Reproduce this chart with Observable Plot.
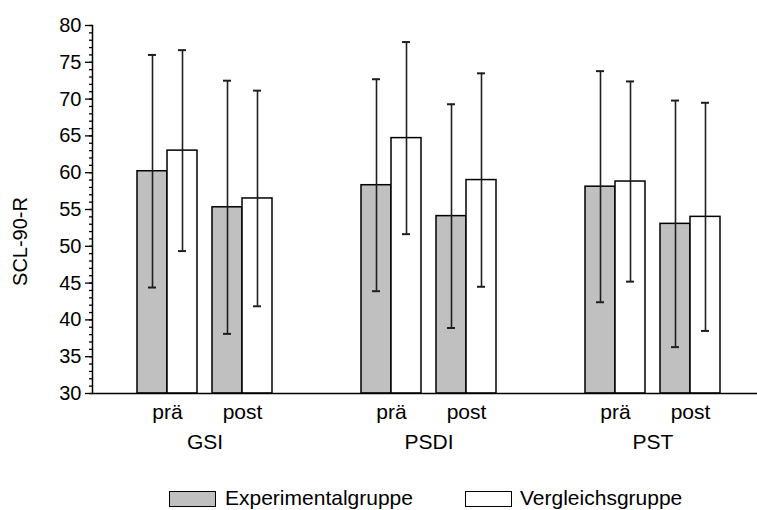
<!DOCTYPE html>
<html>
<head>
<meta charset="utf-8">
<script src="https://cdn.jsdelivr.net/npm/d3@7"></script>
<script src="https://cdn.jsdelivr.net/npm/@observablehq/plot@0.6"></script>
<style>
  body { margin: 0; background: #fff; font-family: "Liberation Sans", Arial, sans-serif; }
  #chart { position: relative; width: 757px; }
  .legend { position: relative; width: 757px; height: 40px; font-size: 21px; color: #000; }
  .legend .sw { position: absolute; top: 21px; width: 45px; height: 14px; border: 1.5px solid #000; }
  .legend .lab { position: absolute; top: 17px; line-height: 22px; white-space: nowrap; }
</style>
</head>
<body>
<div id="chart"></div>
<script>
// SCL-90-R scales, each measured before (prä) and after (post)
const metrics = ["GSI", "PSDI", "PST"];
const times = ["prä", "post"];
const groups = ["Experimentalgruppe", "Vergleichsgruppe"];

// Means and standard deviations, ordered GSI prä, GSI post, PSDI prä, PSDI post, PST prä, PST post
const expMean = [60.2, 55.3, 58.3, 54.1, 58.1, 53.05];
const expSD   = [15.8, 17.2, 14.4, 15.2, 15.7, 16.75];
const vglMean = [63.0, 56.5, 64.7, 59.0, 58.8, 54.0];
const vglSD   = [13.65, 14.65, 13.05, 14.5, 13.6, 15.5];

const yMajorTicks = [30, 35, 40, 45, 50, 55, 60, 65, 70, 75, 80];
const yMinorTicks = d3.range(30, 81, 1);

const groupFill = {"Experimentalgruppe": "#c0c0c0", "Vergleichsgruppe": "#ffffff"};

// one row per bar
const rows = [];
groups.forEach((group, gi) => {
  const means = gi === 0 ? expMean : vglMean;
  const sds = gi === 0 ? expSD : vglSD;
  metrics.forEach((metric, mi) => {
    times.forEach((time, ti) => {
      const k = mi * times.length + ti;
      rows.push({metric, time, group, mean: means[k], sd: sds[k]});
    });
  });
});

// layout inside each metric band: two pairs of bars with a small gap
const barW = 30, pairGap = 15;
const bandW = 2 * (2 * barW) + pairGap;

const barMarks = [];
times.forEach((time, ti) => {
  groups.forEach((group, gi) => {
    const left = ti * (2 * barW + pairGap) + gi * barW;
    const right = bandW - left - barW;
    const center = left + barW / 2 - bandW / 2;
    const sub = rows.filter(d => d.time === time && d.group === group);
    barMarks.push(
      Plot.barY(sub, {
        x: "metric", y1: 30, y2: "mean",
        fill: groupFill[group], stroke: "#000", strokeWidth: 1.5,
        insetLeft: left, insetRight: right
      }),
      Plot.ruleX(sub, {
        x: "metric", y1: d => d.mean - d.sd, y2: d => d.mean + d.sd,
        dx: center, stroke: "#1e1e1e", strokeWidth: 1.6
      }),
      Plot.tickY(sub, {
        x: "metric", y: d => d.mean + d.sd,
        insetLeft: left + barW / 2 - 4, insetRight: right + barW / 2 - 4,
        stroke: "#1e1e1e", strokeWidth: 2
      }),
      Plot.tickY(sub, {
        x: "metric", y: d => d.mean - d.sd,
        insetLeft: left + barW / 2 - 4, insetRight: right + barW / 2 - 4,
        stroke: "#1e1e1e", strokeWidth: 2
      })
    );
  });
});

const timeLabels = times.map((time, ti) =>
  Plot.text(metrics, {
    x: d => d, text: () => time,
    frameAnchor: "bottom", lineAnchor: "middle",
    dx: (ti === 0 ? -1 : 1) * (barW + pairGap / 2), dy: 19,
    fontSize: 21, fill: "#000"
  })
);

const chart = Plot.plot({
  width: 757,
  height: 470,
  marginLeft: 92,
  marginRight: 0,
  marginTop: 25,
  marginBottom: 77,
  style: {fontFamily: "'Liberation Sans', Arial, sans-serif", background: "#fff", color: "#000"},
  x: {domain: metrics, paddingInner: 89 / 224, paddingOuter: 41 / 224, align: 45 / 82, axis: null},
  y: {domain: [30, 80], axis: null},
  marks: [
    ...barMarks,
    Plot.axisY({ticks: yMinorTicks, tickSize: 3, text: null, label: null, strokeWidth: 1.3}),
    Plot.axisY({ticks: yMajorTicks, tickSize: 7, tickPadding: 4, fontSize: 20, label: null, strokeWidth: 1.3}),
    Plot.frame({anchor: "left", strokeWidth: 1.5}),
    Plot.ruleY([30], {strokeWidth: 1.5}),
    ...timeLabels,
    Plot.axisX({tickSize: 0, tickPadding: 41, fontSize: 21, label: null}),
    Plot.text(["SCL-90-R"], {
      text: d => d, frameAnchor: "left", textAnchor: "middle", rotate: -90,
      dx: -72, dy: 32, fontSize: 20, fill: "#000"
    })
  ]
});
document.getElementById("chart").appendChild(chart);

// legend below the plot
const legend = document.createElement("div");
legend.className = "legend";
const legendPos = [{sw: 169, lab: 225}, {sw: 465, lab: 520}];
groups.forEach((group, gi) => {
  const sw = document.createElement("div");
  sw.className = "sw";
  sw.style.left = legendPos[gi].sw + "px";
  sw.style.background = groupFill[group];
  const lab = document.createElement("div");
  lab.className = "lab";
  lab.style.left = legendPos[gi].lab + "px";
  lab.textContent = group;
  legend.append(sw, lab);
});
document.body.appendChild(legend);
</script>
</body>
</html>
